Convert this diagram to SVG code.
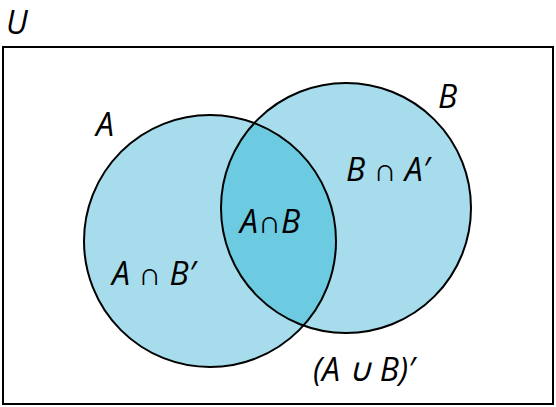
<svg xmlns="http://www.w3.org/2000/svg" width="556" height="407" viewBox="0 0 556 407">
<style>
text{font-family:"Open Sans","Noto Sans",sans-serif;font-style:italic;font-size:32px;fill:#000}
.c{stroke:#000;stroke-width:2}
</style>
<defs>
<clipPath id="ca"><circle cx="210" cy="241" r="126"/></clipPath>
</defs>
<g id="universe"><rect x="3" y="47" width="550" height="357" fill="#fff" stroke="#000" stroke-width="2"/><text x="6" y="34">U</text></g>
<g id="A"><circle cx="210" cy="241" r="126" fill="#a6dceb"/></g>
<g id="B"><circle cx="346" cy="208" r="125" fill="#a6dceb"/></g>
<g id="AB"><circle cx="346" cy="208" r="125" fill="#6ccbe0" clip-path="url(#ca)"/></g>
<g id="outlines" fill="none">
<circle class="c" cx="210" cy="241" r="126"/>
<circle class="c" cx="346" cy="208" r="125"/>
</g>
<g id="labels">
<text x="96" y="136">A</text>
<text x="438" y="108">B</text>
<text x="346" y="181">B ∩ A′</text>
<text x="240" y="233">A∩B</text>
<text x="112" y="285">A ∩ B′</text>
<text x="313" y="381">(A ∪ B)′</text>
</g>
</svg>
